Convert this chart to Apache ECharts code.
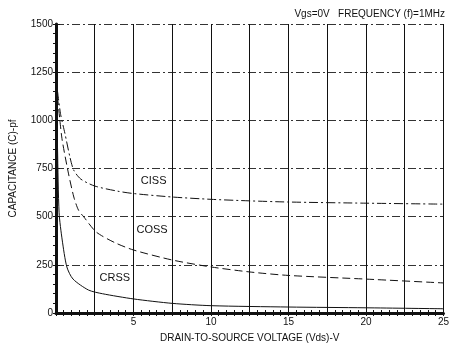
<!DOCTYPE html>
<html>
<head>
<meta charset="utf-8">
<script src="https://cdn.jsdelivr.net/npm/echarts@6/dist/echarts.min.js"></script>
<style>
html,body{margin:0;padding:0;background:#fff;}
#chart{width:452px;height:349px;}
</style>
</head>
<body>
<div id="chart"></div>
<script>
// Drain-to-source voltage (V) vs capacitance (pF)
const cissV = [0.1, 0.3, 0.57, 0.9, 1.14, 1.6, 2.5, 4, 5, 7.5, 10, 12.5, 15, 20, 25];
const cissC = [1150, 1030, 934, 809, 742, 695, 659, 632, 620, 602, 590, 582, 576, 570, 565];

const cossV = [0.1, 0.25, 0.4, 0.8, 1.15, 1.45, 1.8, 2.6, 3.8, 5, 7.5, 10, 12.5, 15, 20, 25];
const cossC = [1120, 1000, 897, 726, 602, 534, 498, 420, 365, 327, 275, 239, 213, 195, 176, 156];

const crssV = [0.05, 0.1, 0.2, 0.4, 0.7, 1.1, 2.1, 3, 5, 7.5, 10, 15, 20, 25];
const crssC = [1120, 850, 520, 379, 239, 176, 119, 100, 73, 50, 38, 31, 27, 22];

// curve name tags: [voltage, capacitance]
const tagNames = ['CISS', 'COSS', 'CRSS'];
const tagPos = [[6.3, 685], [6.2, 430], [3.8, 182]];

const yTicks = [0, 250, 500, 750, 1000, 1250, 1500];
const xLabelsShown = [5, 10, 15, 20, 25];

const titleText = 'Vgs=0V   FREQUENCY (f)=1MHz';
const xName = 'DRAIN-TO-SOURCE VOLTAGE (Vds)-V';
const yName = 'CAPACITANCE (C)-pf';

const FONT = 'Liberation Sans';
const INK = '#111';

function pairs(xs, ys) { return xs.map((x, i) => [x, ys[i]]); }

function tag(i) {
  return {
    coord: tagPos[i], symbol: 'rect', symbolSize: 1,
    itemStyle: {color: 'rgba(0,0,0,0)'},
    label: {show: true, position: 'inside', formatter: tagNames[i],
            color: INK, fontSize: 11, fontFamily: FONT}
  };
}

function curve(name, xs, ys, dash, tagIdx) {
  return {
    name, type: 'line', data: pairs(xs, ys), smooth: 0.25,
    symbol: 'none', xAxisIndex: 0, yAxisIndex: 0,
    lineStyle: {color: INK, width: 1, type: dash},
    markPoint: {silent: true, data: [tag(tagIdx)], animation: false},
    z: 5
  };
}

// inward ticks for the frame edges
const innerTick = {show: true, inside: true, length: 3, lineStyle: {color: INK, width: 1}};
const innerMinor = {show: true, splitNumber: 5, length: 3, lineStyle: {color: INK, width: 1}};

const chart = echarts.init(document.getElementById('chart'), null, {renderer: 'canvas'});
chart.setOption({
  animation: false,
  backgroundColor: '#fff',
  title: {
    text: titleText, right: 2, top: 4,
    textStyle: {fontSize: 10, fontWeight: 'normal', color: INK, fontFamily: FONT}
  },
  grid: {left: 53, right: 5, top: 24, bottom: 36, containLabel: false},
  xAxis: [{
    type: 'value', min: 0, max: 25, interval: 2.5,
    name: xName, nameLocation: 'middle', nameGap: 20,
    nameTextStyle: {fontSize: 10, color: INK, fontFamily: FONT},
    axisLine: {show: true, onZero: false, lineStyle: {color: INK, width: 3}},
    axisTick: innerTick,
    minorTick: innerMinor,
    axisLabel: {
      fontSize: 10, color: INK, fontFamily: FONT, margin: 4,
      formatter: v => xLabelsShown.indexOf(v) >= 0 ? String(v) : ''
    },
    splitLine: {show: true, lineStyle: {color: INK, width: 1, type: 'solid'}}
  }, {
    type: 'value', min: 0, max: 25, interval: 2.5, position: 'top',
    axisLine: {show: true, lineStyle: {color: INK, width: 1.5}},
    axisTick: innerTick,
    minorTick: innerMinor,
    axisLabel: {show: false}, splitLine: {show: false}
  }],
  yAxis: [{
    type: 'value', min: 0, max: 1500, interval: 250,
    name: yName, nameLocation: 'middle', nameGap: 38,
    nameTextStyle: {fontSize: 10, color: INK, fontFamily: FONT},
    axisLine: {show: true, onZero: false, lineStyle: {color: INK, width: 3}},
    axisTick: {show: true, inside: true, length: 4, lineStyle: {color: INK}},
    axisLabel: {
      fontSize: 10, color: INK, fontFamily: FONT, margin: 3,
      formatter: v => yTicks.indexOf(v) >= 0 ? String(v) : ''
    },
    splitLine: {show: true, lineStyle: {color: '#333', width: 1, type: [8, 3, 2, 3]}}
  }, {
    type: 'value', min: 0, max: 1500, interval: 250, position: 'right',
    axisLine: {show: true, lineStyle: {color: INK, width: 1.5}},
    axisTick: innerTick,
    minorTick: innerMinor,
    axisLabel: {show: false}, splitLine: {show: false}
  }],
  series: [
    curve('CISS', cissV, cissC, [9, 3, 2, 3], 0),
    curve('COSS', cossV, cossC, [8, 4], 1),
    curve('CRSS', crssV, crssC, 'solid', 2)
  ]
});
</script>
</body>
</html>
